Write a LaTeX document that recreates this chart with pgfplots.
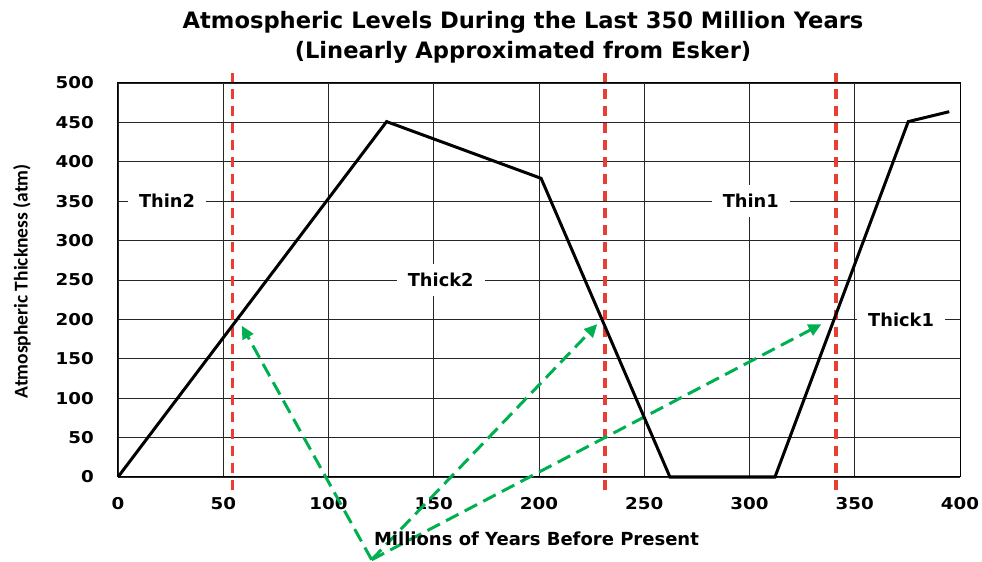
\documentclass[border=0pt]{standalone}
\usepackage{fontspec}
\setmainfont{Carlito}
\newfontfamily\dejavu{DejaVu Sans}
\newfontfamily\tickfont[FakeStretch=1.12]{DejaVu Sans}
\usepackage{pgfplots}
\pgfplotsset{compat=1.18}
\usetikzlibrary{arrows.meta}
\definecolor{redl}{RGB}{232,62,52}
\definecolor{greenl}{RGB}{0,176,80}
\begin{document}
\begin{tikzpicture}
\useasboundingbox (-118bp,-85bp) rectangle (864bp,477bp);
\begin{axis}[
  at={(0,0)}, anchor=south west,
  scale only axis, width=842bp, height=394bp,
  xmin=0, xmax=400, ymin=0, ymax=500,
  xtick={0,50,...,400}, ytick={0,50,...,500},
  grid=major, major grid style={black!85, line width=0.9bp},
  axis line style={black, line width=1bp},
  major tick length=0pt,
  clip=false,
  /pgf/number format/assume math mode=true,
  ticklabel style={font=\tickfont\bfseries\fontsize{16.3bp}{20bp}\selectfont, inner sep=0pt},
  xticklabel style={anchor=north, yshift=-20bp},
  yticklabel style={anchor=east, xshift=-24bp},
  title={Atmospheric Levels During the Last 350 Million Years\\(Linearly Approximated from Esker)},
  title style={at={(axis description cs:0.481,1.166)}, anchor=north, align=center, inner sep=0pt,
    font=\dejavu\bfseries\fontsize{22.6bp}{30bp}\selectfont},
  xlabel={Millions of Years Before Present},
  xlabel style={at={(axis description cs:0.497,-0.175)}, anchor=base, inner sep=0pt,
    font=\dejavu\bfseries\fontsize{18bp}{20bp}\selectfont},
  ylabel={Atmospheric Thickness (atm)},
  ylabel style={at={(axis description cs:-0.114,0.497)}, anchor=center, rotate=0,
    font=\bfseries\fontsize{19.5bp}{22bp}\selectfont},
]
% region boundaries
\addplot[redl, line width=3.5bp, dash pattern=on 10bp off 7bp] coordinates {(54.5,-17) (54.5,513)};
\addplot[redl, line width=3.5bp, dash pattern=on 10bp off 7bp] coordinates {(231.4,-17) (231.4,513)};
\addplot[redl, line width=3.5bp, dash pattern=on 10bp off 7bp] coordinates {(341,-17) (341,513)};
% arrows
\addplot[greenl, line width=3bp, dash pattern=on 14bp off 7bp, -{Triangle[length=13bp,width=12bp]}] coordinates {(120.5,-105) (58.8,192)};
\addplot[greenl, line width=3bp, dash pattern=on 14bp off 7bp, -{Triangle[length=13bp,width=12bp]}] coordinates {(120.5,-105) (227.7,194)};
\addplot[greenl, line width=3bp, dash pattern=on 14bp off 7bp, -{Triangle[length=13bp,width=12bp]}] coordinates {(120.5,-105) (334.2,194)};
% atmospheric level
\addplot[black, line width=3bp, line join=miter] coordinates {
  (0,0) (127.6,451) (201,379) (262.2,0) (312.1,0) (375.4,451) (394.9,463.6)};
% labels
\tikzset{lab/.style={fill=white, inner xsep=11bp, inner ysep=9bp,
  font=\dejavu\bfseries\fontsize{17.8bp}{20bp}\selectfont}}
\node[lab] at (axis cs:23.3,350) {Thin2};
\node[lab] at (axis cs:153.3,250) {Thick2};
\node[lab] at (axis cs:300.6,350) {Thin1};
\node[lab] at (axis cs:372,200) {Thick1};
\end{axis}
\end{tikzpicture}
\end{document}
